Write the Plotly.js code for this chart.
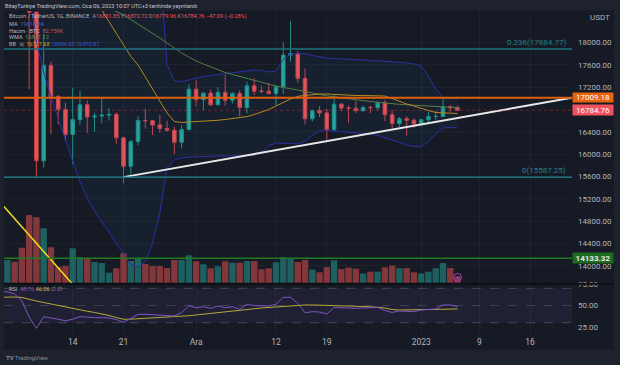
<!DOCTYPE html>
<html><head><meta charset="utf-8">
<script src="https://cdn.plot.ly/plotly-3.0.1.min.js"></script>
<style>html,body{margin:0;padding:0;background:#1e222d;}#chart{width:620px;height:365px;}</style>
</head><body><div id="chart"></div>
<script>
const dates = ['2022-11-04','2022-11-05','2022-11-06','2022-11-07','2022-11-08','2022-11-09','2022-11-10','2022-11-11','2022-11-12','2022-11-13','2022-11-14','2022-11-15','2022-11-16','2022-11-17','2022-11-18','2022-11-19','2022-11-20','2022-11-21','2022-11-22','2022-11-23','2022-11-24','2022-11-25','2022-11-26','2022-11-27','2022-11-28','2022-11-29','2022-11-30',
'2022-12-01','2022-12-02','2022-12-03','2022-12-04','2022-12-05','2022-12-06','2022-12-07','2022-12-08','2022-12-09','2022-12-10','2022-12-11','2022-12-12','2022-12-13','2022-12-14','2022-12-15','2022-12-16','2022-12-17','2022-12-18','2022-12-19','2022-12-20','2022-12-21','2022-12-22','2022-12-23','2022-12-24','2022-12-25','2022-12-26','2022-12-27','2022-12-28','2022-12-29','2022-12-30','2022-12-31',
'2023-01-01','2023-01-02','2023-01-03','2023-01-04','2023-01-05','2023-01-06'];

const open = [20207,21148,21299,20905,20591,18541,15880,17587,17034,16799,16353,16618,16884,16664,16681,16698,16711,16291,15781,16226,16603,16598,16522,16458,16428,16212,16442,
17163,16977,17092,16885,17105,16967,17088,16836,17224,17128,17127,17085,17209,17775,17803,17356,16632,16777,16738,16439,16895,16824,16822,16778,16836,16832,16919,16706,16547,16633,16607,
16542,16616,16672,16675,16850,16831.85];
const high = [21302,21480,21365,21070,20700,18587,18154,17655,17060,16922,17190,17134,16960,16740,17016,16822,16750,16310,16253,16675,16812,16605,16700,16600,16490,16525,17249,
17320,17105,17158,17203,17424,17107,17142,17299,17360,17227,17270,17241,18000,18387,17846,17531,16800,16859,16815,17061,16918,16868,16955,16869,16868,16944,16972,16785,16664,16677,16644,
16630,16760,16773,16991,16879,16872.72];
const low = [20180,21080,20880,20386,17166,15588,15755,16361,16531,16229,15815,16527,16381,16400,16550,16600,16187,15476,15634,16160,16458,16341,16385,16400,16002,16100,16428,
16855,16787,16862,16878,16868,16907,16678,16733,17058,17092,17071,16871,17080,17660,17276,16527,16585,16663,16256,16398,16768,16559,16731,16759,16735,16791,16592,16465,16488,16333,16470,
16499,16572,16606,16658,16753,16779.96];
const close = [21148,21299,20905,20591,18541,15880,17587,17034,16799,16353,16618,16884,16664,16681,16698,16711,16291,15781,16226,16603,16598,16522,16458,16428,16212,16442,17163,
16977,17092,16885,17105,16967,17088,16836,17224,17128,17127,17085,17209,17775,17803,17356,16632,16777,16738,16439,16895,16824,16822,16778,16836,16832,16919,16706,16547,16633,16607,16542,
16616,16672,16675,16850,16831,16784.76];
// volume in thousands of BTC
const volumeK = [520,287,266,441,850,821,684,446,204,212,434,321,300,262,250,129,184,371,275,300,237,212,212,187,287,287,346,
271,234,184,209,271,254,254,275,275,171,184,259,321,304,262,287,168,134,200,284,175,192,180,118,142,142,196,217,184,187,134,
118,142,184,250,187,82.759];
const bbUpper = [21000,21100,21150,21200,21600,22300,22700,22950,23150,23250,23250,23200,23000,22700,22385,22146,21932,21717,21476,21217,20694,19963,19430,17600,17319,17297,17328,
17364,17391,17409,17427,17444,17462,17480,17493,17507,17498,17471,17489,17695,17794,17806,17806,17767,17740,17722,17713,17704,17699,17695,17686,17681,17674,17668,17656,17645,17633,17615,
17579,17400,17168,17014,17005,16984.93];
const bbLower = [19200,19200,19250,19300,18900,18009,17471,17023,16629,16253,15841,15500,15213,14980,14783,14604,14398,14201,14022,13977,14066,14407,14946,15753,15894,15930,15948,
15948,15957,15961,15966,15966,15970,15971,15975,15978,16020,16145,16199,16199,16190,16181,16235,16333,16414,16423,16414,16405,16396,16387,16378,16360,16333,16297,16253,16208,16163,16136,
16133,16226,16360,16468,16477,16470.87];
const bbBasis = [20100,20150,20200,20250,20250,20150,20100,20000,19900,19750,19550,19350,19100,18850,18584,18375,18165,17959,17749,17597,17380,17185,16970,16737,16584,16566,16575,
16580,16588,16597,16606,16620,16638,16660,16672,16710,16755,16799,16862,16925,16987,17036,17054,17068,17077,17077,17068,17059,17050,17050,17050,17050,17050,17041,16996,16943,16898,16862,
16817,16781,16746,16737,16731,16727.68];
const wma = [19900,19850,19800,19750,19650,19550,19450,19350,19250,19150,19050,18950,18850,18760,18680,18620,18565,18493,18412,18331,18250,18170,18081,17991,17901,17812,17740,
17668,17615,17561,17507,17462,17427,17391,17358,17323,17283,17247,17220,17194,17176,17149,17122,17095,17068,17045,17029,17009,16991,16973,16957,16943,16928,16916,16903,16892,16884,16875,
16866,16858,16851,16846,16840,16831.12];
const rsi = [66.9,65.7,63.4,55.2,36.6,23.5,37,35.8,34,32.3,34,37,36.3,36,35.8,35.5,33.7,30.5,35.1,39.8,39.8,39.3,39,38.6,37.8,41.6,49.8,
47.4,48.6,46.7,49.4,47.4,48.6,45.6,51.4,49.8,49.4,49.4,51.4,59.5,59.5,52.6,41.6,42.8,42.4,40.1,47.7,47.1,47.1,46.7,47.1,47.4,47.9,44.2,41.9,43.6,43,42.8,
44.8,45.6,45.9,50.6,50.6,48.76];
const rsiMa = [59.5,59.9,59.9,59.3,57,55.2,53.5,51.7,50,48.3,46.5,44.8,43.3,41.9,40.3,38.4,36,34,34.1,34.5,34.9,35.5,35.8,36.3,36.6,37.4,38.1,
39,39.8,40.7,41.9,42.8,43.6,44.4,45.3,46.2,47.1,47.7,48.3,49.1,50,50.6,50.6,50.6,50.2,50,49.7,49.4,49.2,49.1,48.8,48.6,48,47.1,45.3,44.8,44.8,44.8,
44.8,45,45.3,45.6,45.8,46.06];

const xTickVals = ['2022-11-14','2022-11-21','2022-12-01','2022-12-12','2022-12-19','2023-01-01','2023-01-09','2023-01-16'];
const xTickText = ['14','21','Ara','12','19','2023','9','16'];
const priceTicks = [14000,14400,14800,15200,15600,16000,16400,17200,17600,18000];
const rsiTicks = [25,50,75];

const fib236 = 17884.77, fib0 = 15587.25;
const orangeLevel = 17009.18, lastPrice = 16784.76, greenLevel = 14133.32;
const trendX = ['2022-11-21','2023-01-21 17:30'], trendY = [15587.25, 17009.18];
const yellowX = ['2022-11-04','2022-11-14'], yellowY = [15136, 13667];

// pixel -> paper helpers (layout only)
const PX = px => (px - 4) / 568;
const PY = py => (335 - py) / 324;

const up = '#26a69a', dn = '#ef5350';
const volColors = close.map((c, i) => c >= open[i] ? 'rgba(38,166,154,0.5)' : 'rgba(239,83,80,0.5)');

const traces = [
  {type:'bar', x:dates, y:volumeK, xaxis:'x', yaxis:'y', marker:{color:volColors, line:{width:0}}, hoverinfo:'skip'},
  {type:'scatter', mode:'lines', x:dates, y:bbLower, xaxis:'x', yaxis:'y2', line:{color:'#2d2fa6', width:1}, hoverinfo:'skip'},
  {type:'scatter', mode:'lines', x:dates, y:bbUpper, xaxis:'x', yaxis:'y2', line:{color:'#2d2fa6', width:1}, fill:'tonexty', fillcolor:'rgba(33,150,243,0.05)', hoverinfo:'skip'},
  {type:'scatter', mode:'lines', x:dates, y:wma, xaxis:'x', yaxis:'y2', line:{color:'#557d45', width:1}, hoverinfo:'skip'},
  {type:'scatter', mode:'lines', x:dates, y:bbBasis, xaxis:'x', yaxis:'y2', line:{color:'#b68a22', width:1}, hoverinfo:'skip'},
  {type:'candlestick', x:dates, open:open, high:high, low:low, close:close, xaxis:'x', yaxis:'y2',
   increasing:{line:{color:'#1f8f84', width:1}, fillcolor:up}, decreasing:{line:{color:'#c9444b', width:1}, fillcolor:dn},
   whiskerwidth:0, hoverinfo:'skip'},
  {type:'scatter', mode:'lines', x:trendX, y:trendY, xaxis:'x', yaxis:'y2', line:{color:'#e8e8e8', width:2}, hoverinfo:'skip'},
  {type:'scatter', mode:'lines', x:yellowX, y:yellowY, xaxis:'x', yaxis:'y2', line:{color:'#f2dc1c', width:1.5}, hoverinfo:'skip'},
  {type:'scatter', mode:'lines', x:dates, y:rsiMa, xaxis:'x', yaxis:'y3', line:{color:'#b8a934', width:1}, hoverinfo:'skip'},
  {type:'scatter', mode:'lines', x:dates, y:rsi, xaxis:'x', yaxis:'y3', line:{color:'#7e57c2', width:1}, hoverinfo:'skip'}
];

const grid = 'rgba(255,255,255,0.04)';
const shapes = [
  {type:'rect', xref:'paper', yref:'paper', x0:PX(3.5), x1:PX(614), y0:PY(350), y1:PY(10.5), fillcolor:'#161a25', line:{width:0}, layer:'below'},
  {type:'rect', xref:'paper', yref:'y3', x0:0, x1:1, y0:30, y1:70, fillcolor:'rgba(126,87,194,0.1)', line:{width:0}, layer:'below'},
  {type:'line', xref:'paper', yref:'y3', x0:0, x1:1, y0:70, y1:70, line:{color:'rgba(120,123,134,0.45)', width:1, dash:'dash'}, layer:'below'},
  {type:'line', xref:'paper', yref:'y3', x0:0, x1:1, y0:50, y1:50, line:{color:'rgba(120,123,134,0.35)', width:1, dash:'dash'}, layer:'below'},
  {type:'line', xref:'paper', yref:'y3', x0:0, x1:1, y0:30, y1:30, line:{color:'rgba(120,123,134,0.45)', width:1, dash:'dash'}, layer:'below'},
  {type:'line', xref:'paper', yref:'paper', x0:PX(3.5), x1:PX(614), y0:PY(283.8), y1:PY(283.8), line:{color:'#0d0f15', width:2}, layer:'above'},
  {type:'line', xref:'paper', yref:'y2', x0:0, x1:1, y0:fib236, y1:fib236, line:{color:'#1d7480', width:1.5}, layer:'above'},
  {type:'line', xref:'paper', yref:'y2', x0:0, x1:1, y0:fib0, y1:fib0, line:{color:'#1d7480', width:1.5}, layer:'above'},
  {type:'line', xref:'paper', yref:'y2', x0:0, x1:1, y0:lastPrice, y1:lastPrice, line:{color:'rgba(242,54,69,0.38)', width:1, dash:'dot'}, layer:'above'},
  {type:'line', xref:'paper', yref:'y2', x0:0, x1:1, y0:orangeLevel, y1:orangeLevel, line:{color:'#db5f0e', width:2}, layer:'above'},
  {type:'line', xref:'paper', yref:'y2', x0:0, x1:1, y0:greenLevel, y1:greenLevel, line:{color:'#1f7a22', width:1.5}, layer:'above'},
  {type:'circle', xref:'paper', yref:'paper', x0:PX(453.5), x1:PX(461.5), y0:PY(281.3), y1:PY(273.3), line:{color:'#9c3fc0', width:1}, fillcolor:'rgba(0,0,0,0)', layer:'above'}
];

const g = '#9598a1';
const span = (c, t) => `<span style="color:${c}">${t}</span>`;
const legendFont = {family:'Roboto, sans-serif', size:5.6, color:'#b2b5be'};
const ann = (px, py, text, extra={}) => Object.assign({xref:'paper', yref:'paper', x:PX(px), y:PY(py), xanchor:'left', yanchor:'middle', showarrow:false, text:text, font:legendFont}, extra);

const annotations = [
  ann(3.3, 5.7, 'BitayTurkiye TradingView.com, Oca 06, 2023 10:07 UTC+3 tarihinde yayınlandı', {font:{family:'Roboto, sans-serif', size:5.6, color:'#c4c7cf'}}),
  ann(7, 16.7, 'Bitcoin / TetherUS, 1G, BINANCE\u00a0 ' + span(g,'A') + span('#f7525f','16831.85') + ' ' + span(g,'Y') + span('#f7525f','16872.72') + ' ' + span(g,'D') + span('#f7525f','16779.96') + ' ' + span(g,'K') + span('#f7525f','16784.76') + ' ' + span('#f7525f','\u221247.09 (\u22120.28%)')),
  ann(7, 24, 'MA\u00a0 ' + span('#3e64d8','19618.04')),
  ann(7, 30.7, 'Hacim \u00b7 BTC\u00a0 ' + span('#d2505a','82.759K')),
  ann(7, 37.3, 'WMA\u00a0 ' + span('#4f9a4f','16831.12')),
  ann(7, 44, 'BB\u00a0 ' + span('#5b5f6b','\u25a3') + ' ' + span('#d6a52a','16727.68') + ' ' + span('#3b55d0','16984.93') + ' ' + span('#3b55d0','16470.87')),
  ann(7, 289, 'RSI\u00a0 ' + span('#7e57c2','48.76') + ' ' + span('#d6c23a','46.06') + ' ' + span(g,'\u2205 \u2205')),
  ann(4, 357, '<b>TV</b> TradingView', {font:{family:'Roboto, sans-serif', size:6, color:'#8a8d96'}}),
  {xref:'paper', yref:'y2', x:1, y:fib236, xanchor:'right', yanchor:'bottom', xshift:-4, yshift:0, showarrow:false, text:'0.236(17884.77)', font:{family:'Roboto, sans-serif', size:8, color:'#22808d'}},
  {xref:'paper', yref:'y2', x:1, y:fib0, xanchor:'right', yanchor:'bottom', xshift:-4, yshift:0, showarrow:false, text:'0(15587.25)', font:{family:'Roboto, sans-serif', size:8, color:'#22808d'}},
  {xref:'paper', yref:'y2', x:1, y:orangeLevel, xanchor:'left', yanchor:'middle', showarrow:false, text:'17009.18', bgcolor:'#e8640e', width:40, height:9, borderpad:0, font:{family:'Roboto, sans-serif', size:8, color:'#ffffff'}},
  {xref:'paper', yref:'y2', x:1, y:lastPrice, xanchor:'left', yanchor:'middle', showarrow:false, text:'16784.76', bgcolor:'#ef5360', width:40, height:10, borderpad:0, font:{family:'Roboto, sans-serif', size:8, color:'#ffffff'}},
  {xref:'paper', yref:'y2', x:1, y:greenLevel, xanchor:'left', yanchor:'middle', showarrow:false, text:'<b>14133.32</b>', bgcolor:'#1c6b21', width:40, height:10, borderpad:0, font:{family:'Roboto, sans-serif', size:8, color:'#e8e8e8'}},
  {xref:'paper', yref:'paper', x:PX(600), y:PY(18), xanchor:'center', yanchor:'middle', showarrow:false, text:'USDT', font:{family:'Roboto, sans-serif', size:8, color:'#b2b5be'}},
  {xref:'paper', yref:'paper', x:PX(457.5), y:PY(277.3), xanchor:'center', yanchor:'middle', showarrow:false, text:'\u03df', font:{family:'DejaVu Sans, sans-serif', size:6, color:'#b04fd0'}}
];

const layout = {
  width:620, height:365,
  margin:{l:4, r:48, t:11, b:30, pad:0},
  paper_bgcolor:'#1e222d', plot_bgcolor:'#161a25',
  font:{family:'Roboto, sans-serif', size:8, color:'#b2b5be'},
  showlegend:false, dragmode:false, bargap:0.12,
  xaxis:{type:'date', range:['2022-11-04 12:53','2023-01-21 18:30'], anchor:'y3', tickmode:'array', tickvals:xTickVals, ticktext:xTickText,
         showgrid:true, gridcolor:grid, ticks:'', showline:false, zeroline:false, rangeslider:{visible:false}, tickfont:{size:8.5, color:'#b2b5be'}, fixedrange:true},
  yaxis:{domain:[0.1605,1], range:[0,3400], visible:false, fixedrange:true},
  yaxis2:{overlaying:'y', side:'right', anchor:'x', range:[13690,18564.5], tickmode:'array', tickvals:priceTicks, tickformat:'.2f',
          showgrid:true, gridcolor:grid, zeroline:false, ticks:'', showline:false, ticklabelstandoff:5, tickfont:{size:8, color:'#b2b5be'}, fixedrange:true},
  yaxis3:{domain:[0,0.159], anchor:'x', side:'right', range:[15.7,75.6], tickmode:'array', tickvals:rsiTicks, tickformat:'.2f',
          showgrid:false, zeroline:false, ticks:'', showline:false, ticklabelstandoff:5, tickfont:{size:8, color:'#b2b5be'}, fixedrange:true},
  shapes:shapes, annotations:annotations
};

Plotly.newPlot('chart', traces, layout, {displayModeBar:false, staticPlot:true});
</script>
</body></html>
